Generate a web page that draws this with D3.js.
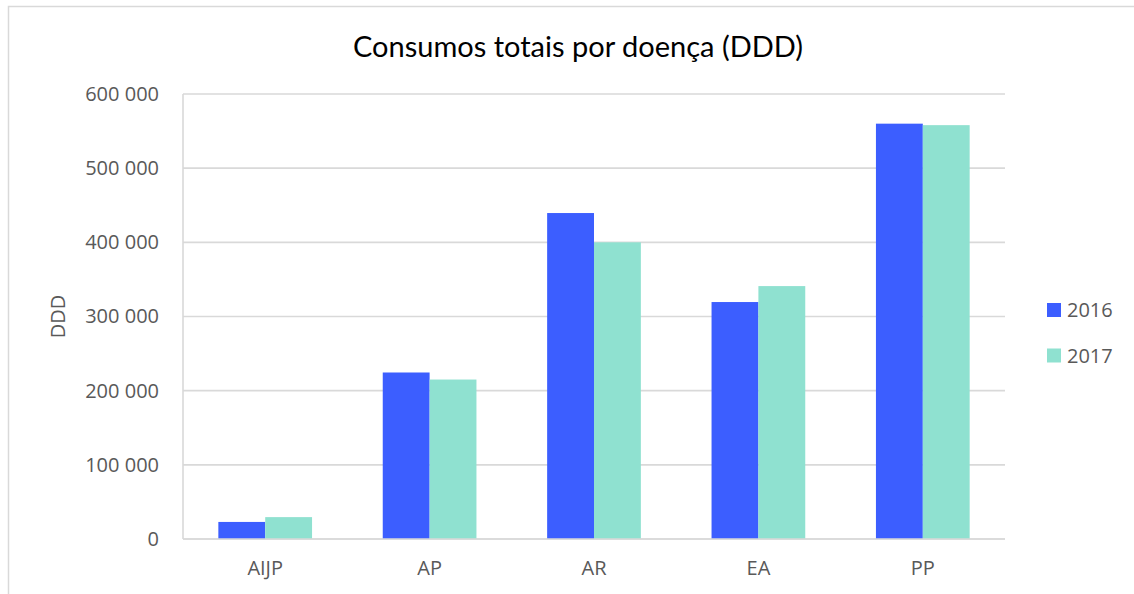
<!DOCTYPE html>
<html>
<head>
<meta charset="utf-8">
<script src="https://cdn.jsdelivr.net/npm/d3@7"></script>
<style>
  html, body { margin: 0; padding: 0; background: #fff; }
  svg { display: block; }
</style>
</head>
<body>
<svg id="chart" width="1134" height="594"></svg>
<script>
// Total consumption per disease, in DDD
const categories = ["AIJP", "AP", "AR", "EA", "PP"];
const seriesNames = ["2016", "2017"];
const values2016 = [23000, 224500, 439500, 319500, 560000];
const values2017 = [29500, 215000, 400000, 341000, 558000];
const yTicks = [0, 100000, 200000, 300000, 400000, 500000, 600000];
const colors = ["#3c5eff", "#8fe1d0"];

const svg = d3.select("#chart");
const W = 1134, H = 594;
const plot = { left: 183, right: 1005, top: 94, bottom: 539 };

// chart frame
svg.append("path")
  .attr("d", `M8.5,${H} V6.5 H${W}`)
  .attr("fill", "none")
  .attr("stroke", "#d9d9d9")
  .attr("stroke-width", 1.5);

const x0 = d3.scaleBand().domain(categories).range([plot.left, plot.right]).paddingInner(0.43).paddingOuter(0.215);
const x1 = d3.scaleBand().domain(seriesNames).range([0, x0.bandwidth()]);
const y = d3.scaleLinear().domain([0, 600000]).range([plot.bottom, plot.top]);

const fmt = v => d3.format(",")(v).replace(/,/g, " ");

// horizontal gridlines
svg.append("g")
  .selectAll("line")
  .data(yTicks)
  .join("line")
  .attr("x1", plot.left).attr("x2", plot.right)
  .attr("y1", d => y(d)).attr("y2", d => y(d))
  .attr("stroke", "#d9d9d9")
  .attr("stroke-width", 1.6);

// left edge of the plot area
svg.append("line")
  .attr("x1", plot.left).attr("x2", plot.left)
  .attr("y1", plot.top).attr("y2", plot.bottom)
  .attr("stroke", "#d9d9d9")
  .attr("stroke-width", 1.6);

// y axis labels
const yAxis = d3.axisLeft(y).tickValues(yTicks).tickFormat(fmt).tickSize(0).tickPadding(24);
const gy = svg.append("g").attr("transform", `translate(${plot.left},0)`).call(yAxis);
gy.select(".domain").remove();
gy.selectAll("text")
  .attr("font-family", "'Open Sans', sans-serif")
  .attr("font-size", 20)
  .attr("fill", "#595959");

// bars
const rows = categories.map((c, i) => ({ cat: c, vals: [values2016[i], values2017[i]] }));
const groups = svg.append("g")
  .selectAll("g")
  .data(rows)
  .join("g")
  .attr("transform", d => `translate(${x0(d.cat)},0)`);
groups.selectAll("rect")
  .data(d => d.vals.map((v, k) => ({ key: seriesNames[k], v, k })))
  .join("rect")
  .attr("x", d => x1(d.key))
  .attr("width", x1.bandwidth())
  .attr("y", d => y(d.v))
  .attr("height", d => y(0) - y(d.v))
  .attr("fill", d => colors[d.k]);

// baseline
svg.append("line")
  .attr("x1", plot.left).attr("x2", plot.right)
  .attr("y1", y(0)).attr("y2", y(0))
  .attr("stroke", "#d9d9d9")
  .attr("stroke-width", 1.6);

// x axis labels
const xAxis = d3.axisBottom(x0).tickSize(0).tickPadding(22);
const gx = svg.append("g").attr("transform", `translate(0,${plot.bottom})`).call(xAxis);
gx.select(".domain").remove();
gx.selectAll("text")
  .attr("font-family", "'Open Sans', sans-serif")
  .attr("font-size", 20)
  .attr("fill", "#595959");

// y axis title
svg.append("text")
  .attr("transform", `translate(65,${(plot.top + plot.bottom) / 2}) rotate(-90)`)
  .attr("text-anchor", "middle")
  .attr("font-family", "'Open Sans', sans-serif")
  .attr("font-size", 20)
  .attr("fill", "#595959")
  .text("DDD");

// title
svg.append("text")
  .attr("x", 578)
  .attr("y", 57)
  .attr("text-anchor", "middle")
  .attr("font-family", "Lato, sans-serif")
  .attr("font-size", 29)
  .attr("fill", "#000")
  .text("Consumos totais por doença (DDD)");

// legend
const legend = svg.append("g")
  .selectAll("g")
  .data(seriesNames)
  .join("g")
  .attr("transform", (d, i) => `translate(1047,${303 + i * 45.5})`);
legend.append("rect")
  .attr("width", 14).attr("height", 14)
  .attr("fill", (d, i) => colors[i]);
legend.append("text")
  .attr("x", 20).attr("y", 7)
  .attr("dy", "0.35em")
  .attr("font-family", "'Open Sans', sans-serif")
  .attr("font-size", 20)
  .attr("fill", "#595959")
  .text(d => d);
</script>
</body>
</html>
